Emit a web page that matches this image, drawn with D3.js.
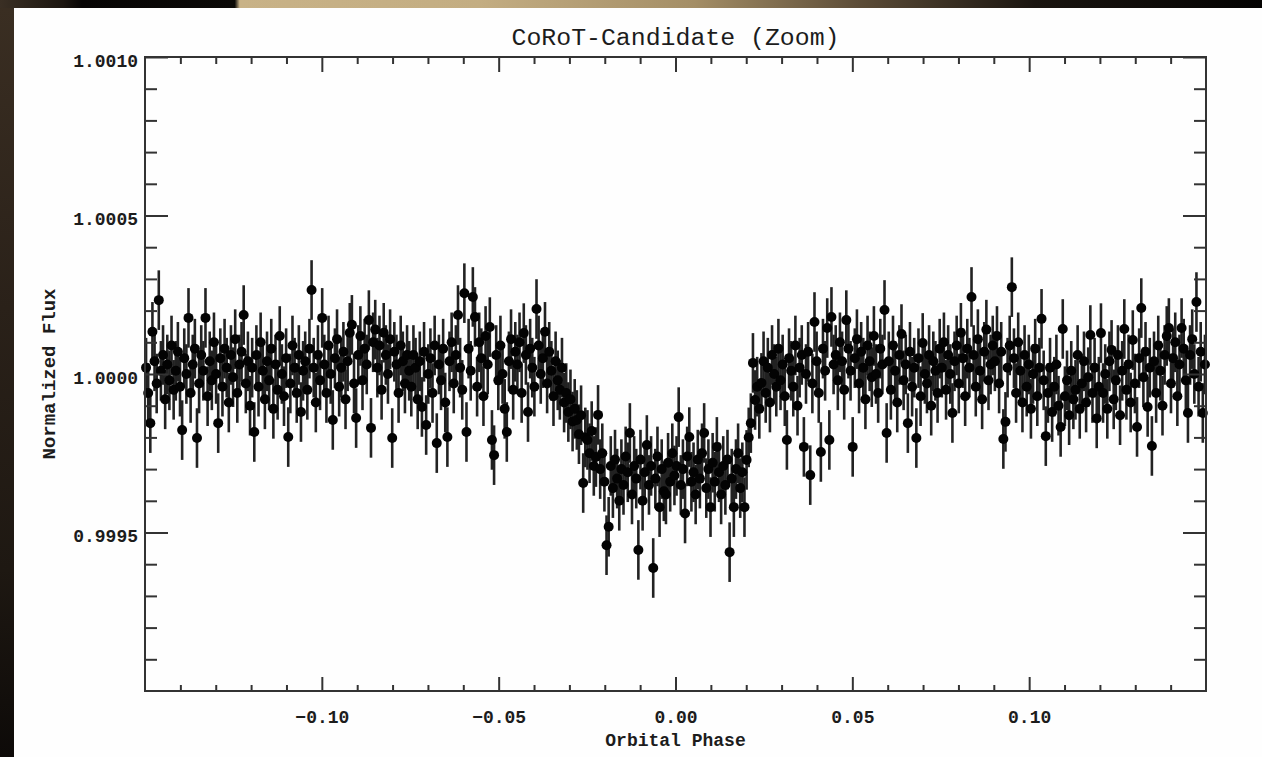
<!DOCTYPE html>
<html>
<head>
<meta charset="utf-8">
<script src="https://cdn.jsdelivr.net/npm/d3@7"></script>
<style>
html, body { margin: 0; padding: 0; background: #000; }
svg { display: block; }
text { font-family: "Liberation Mono", "DejaVu Sans Mono", monospace; font-weight: bold; fill: #1c1c1c; }
</style>
</head>
<body>
<div id="viz"></div>
<script>
// phase folded CoRoT light curve, binned
const phaseFirst = -0.1497;   // centre of the first phase bin
const phaseBin = 0.0006;      // bin width in phase

// relative flux of every bin, in ppm around 1.0
const fluxPpm = [
  20,-60,-155,133,40,-30,233,10,60,-80,30,-20,90,-50,10,70,-40,-177,50,0,177,-60,30,80,-202,
  -30,60,10,177,-70,40,-20,100,0,-155,50,-40,80,20,-90,60,-10,110,-60,30,70,186,-30,40,-100,
  20,-183,60,-40,100,10,-80,40,-20,80,-110,30,-50,120,0,-70,50,-199,-30,90,20,-60,60,-120,10,
  40,-50,80,265,20,-90,60,-20,177,30,-60,90,0,-145,50,110,-40,20,70,-80,40,130,155,-30,-139,
  60,120,-20,80,30,170,-170,100,140,20,90,-50,130,60,0,110,-202,70,30,-60,90,40,-30,60,10,
  -40,60,20,-80,40,-104,70,-161,0,50,-60,90,-218,30,-20,80,-90,-199,40,100,-30,60,186,20,-50,
  255,-183,80,10,243,180,-40,100,50,-70,120,30,148,-208,-256,60,-20,90,0,-110,-183,40,110,-50,70,
  30,100,-60,129,60,-120,80,20,-40,205,90,0,50,133,-30,70,10,-70,40,-20,-50,20,-90,-60,-120,
  -80,-150,-110,-145,-190,-130,-344,-200,-208,-250,-180,-290,-262,-129,-300,-250,-340,-540,-482,-290,-360,-270,-330,-400,-300,
  -350,-260,-310,-186,-380,-290,-330,-555,-270,-400,-310,-224,-350,-290,-612,-330,-260,-420,-300,-370,-380,-280,-340,-250,-320,
  -290,-136,-350,-300,-440,-260,-199,-340,-310,-380,-270,-330,-250,-186,-360,-300,-420,-280,-340,-230,-310,-380,-290,-350,-270,
  -562,-330,-420,-300,-250,-360,-310,-420,-271,-200,-155,35,-82,-40,-110,-28,40,-60,20,-90,60,0,-40,80,-20,
  30,-70,-208,50,10,-40,90,-100,20,60,-230,0,70,-319,-30,164,40,-60,-246,80,10,145,-208,180,30,
  60,-20,100,40,-50,170,80,10,-230,50,110,-30,70,20,-80,90,40,-10,120,0,-60,80,30,202,-186,
  40,-50,90,10,-90,60,126,-20,30,-155,70,-40,20,-202,50,-70,98,0,-30,60,-100,40,10,-60,80,
  20,100,-50,60,0,-123,40,90,-30,130,50,-70,80,20,243,60,-40,110,10,-80,70,140,-20,30,90,
  40,120,-30,70,-205,-151,20,90,274,50,-60,100,10,-90,60,-40,30,-110,0,80,-70,20,174,-20,-196,
  -60,20,-120,-40,30,-100,-167,142,-70,-20,-130,10,-80,-50,60,-110,-30,40,-90,-10,123,-60,20,-140,-40,
  129,-60,0,-110,40,76,-80,-20,60,-130,10,142,-50,30,-90,107,-30,-167,50,208,-10,70,-104,20,-227,
  40,-60,90,10,-100,60,120,145,-30,50,100,-70,30,145,80,-20,-123,60,110,0,227,-40,70,-123,30
];
const fluxErrPpm = 94;

const xMajor = [-0.10, -0.05, 0.00, 0.05, 0.10];
const xMinor = [-0.14,-0.13,-0.12,-0.11,-0.09,-0.08,-0.07,-0.06,-0.04,-0.03,-0.02,-0.01,
                0.01,0.02,0.03,0.04,0.06,0.07,0.08,0.09,0.11,0.12,0.13,0.14];
const yMajor = [0.9995, 1.0000, 1.0005, 1.0010];
const yMinor = [0.9991,0.9992,0.9993,0.9994,0.9996,0.9997,0.9998,0.9999,
                1.0001,1.0002,1.0003,1.0004,1.0006,1.0007,1.0008,1.0009];

const W = 1262, H = 757;
const plot = {left: 145, right: 1206, top: 57, bottom: 691};

const svg = d3.select("#viz").append("svg")
  .attr("width", W).attr("height", H);

// dark backdrop with the tan strip along the top
const defs = svg.append("defs");
const topGrad = defs.append("linearGradient").attr("id", "topGrad");
[["0%", "#3a2f24"], ["5%", "#1c1610"], ["6.5%", "#070504"], ["18.6%", "#0b0907"],
 ["19%", "#c8b287"], ["38%", "#c3ad82"], ["55%", "#a48e66"], ["68%", "#5c4c37"],
 ["82%", "#1a1510"], ["100%", "#040302"]].forEach(s =>
  topGrad.append("stop").attr("offset", s[0]).attr("stop-color", s[1]));
const leftGrad = defs.append("linearGradient").attr("id", "leftGrad")
  .attr("x1", 0).attr("y1", 0).attr("x2", 0).attr("y2", 1);
[["0%", "#3a2e22"], ["40%", "#2a2119"], ["75%", "#1e1812"], ["100%", "#0d0a08"]].forEach(s =>
  leftGrad.append("stop").attr("offset", s[0]).attr("stop-color", s[1]));

svg.append("rect").attr("width", W).attr("height", H).attr("fill", "#0c0907");
svg.append("rect").attr("width", W).attr("height", 9).attr("fill", "url(#topGrad)");
svg.append("rect").attr("y", 8).attr("width", 15).attr("height", H - 8).attr("fill", "url(#leftGrad)");
svg.append("rect").attr("x", 14).attr("y", 8).attr("width", W - 14).attr("height", H - 8).attr("fill", "#fefefe");

const x = d3.scaleLinear().domain([-0.15, 0.15]).range([plot.left, plot.right]);
const y = d3.scaleLinear().domain([0.9990, 1.0010]).range([plot.bottom, plot.top]);

const data = fluxPpm.map((v, i) => ({
  phase: phaseFirst + i * phaseBin,
  flux: 1 + v * 1e-6,
  err: fluxErrPpm * 1e-6
}));

// error bars
svg.append("g").selectAll("line")
  .data(data)
  .join("line")
  .attr("x1", d => x(d.phase)).attr("x2", d => x(d.phase))
  .attr("y1", d => y(d.flux - d.err)).attr("y2", d => y(d.flux + d.err))
  .attr("stroke", "#222")
  .attr("stroke-width", 2.6);

// points
svg.append("g").selectAll("circle")
  .data(data)
  .join("circle")
  .attr("cx", d => x(d.phase))
  .attr("cy", d => y(d.flux))
  .attr("r", 5)
  .attr("fill", "#030303");

// axes, ticks pointing inwards like IDL
function styleAxis(g) {
  g.select(".domain").remove();
  g.selectAll(".tick line").attr("stroke", "#333").attr("stroke-width", 2);
}

svg.append("g")
  .attr("transform", `translate(0,${plot.bottom})`)
  .call(d3.axisBottom(x).tickValues(xMajor).tickSize(-14).tickPadding(19).tickFormat(d3.format(".2f")))
  .call(styleAxis)
  .selectAll("text").style("font-size", "18px").attr("fill", "#1c1c1c");
svg.append("g")
  .attr("transform", `translate(0,${plot.bottom})`)
  .call(d3.axisBottom(x).tickValues(xMinor).tickSize(-6).tickFormat(""))
  .call(styleAxis);
svg.append("g")
  .attr("transform", `translate(0,${plot.top})`)
  .call(d3.axisTop(x).tickValues(xMajor).tickSize(-15).tickFormat(""))
  .call(styleAxis);
svg.append("g")
  .attr("transform", `translate(0,${plot.top})`)
  .call(d3.axisTop(x).tickValues(xMinor).tickSize(-7).tickFormat(""))
  .call(styleAxis);

svg.append("g")
  .attr("transform", `translate(${plot.left},0)`)
  .call(d3.axisLeft(y).tickValues(yMajor).tickSize(-23).tickPadding(7).tickFormat(d3.format(".4f")))
  .call(styleAxis)
  .selectAll("text").style("font-size", "18px").attr("dy", "0.5em").attr("fill", "#1c1c1c");
svg.append("g")
  .attr("transform", `translate(${plot.left},0)`)
  .call(d3.axisLeft(y).tickValues(yMinor).tickSize(-12).tickFormat(""))
  .call(styleAxis);
svg.append("g")
  .attr("transform", `translate(${plot.right},0)`)
  .call(d3.axisRight(y).tickValues(yMajor).tickSize(-23).tickFormat(""))
  .call(styleAxis);
svg.append("g")
  .attr("transform", `translate(${plot.right},0)`)
  .call(d3.axisRight(y).tickValues(yMinor).tickSize(-12).tickFormat(""))
  .call(styleAxis);

// frame
svg.append("rect")
  .attr("x", plot.left).attr("y", plot.top)
  .attr("width", plot.right - plot.left).attr("height", plot.bottom - plot.top)
  .attr("fill", "none").attr("stroke", "#333").attr("stroke-width", 2);

// titles
svg.append("text")
  .attr("x", (plot.left + plot.right) / 2).attr("y", 45)
  .attr("text-anchor", "middle")
  .attr("textLength", 328).attr("lengthAdjust", "spacingAndGlyphs")
  .style("font-size", "23px").style("font-weight", "normal")
  .text("CoRoT-Candidate (Zoom)");

svg.append("text")
  .attr("x", (plot.left + plot.right) / 2).attr("y", 746)
  .attr("text-anchor", "middle")
  .style("font-size", "18px")
  .text("Orbital Phase");

svg.append("text")
  .attr("transform", `translate(55,${(plot.top + plot.bottom) / 2}) rotate(-90)`)
  .attr("text-anchor", "middle")
  .style("font-size", "19px")
  .text("Normalized Flux");
</script>
</body>
</html>
